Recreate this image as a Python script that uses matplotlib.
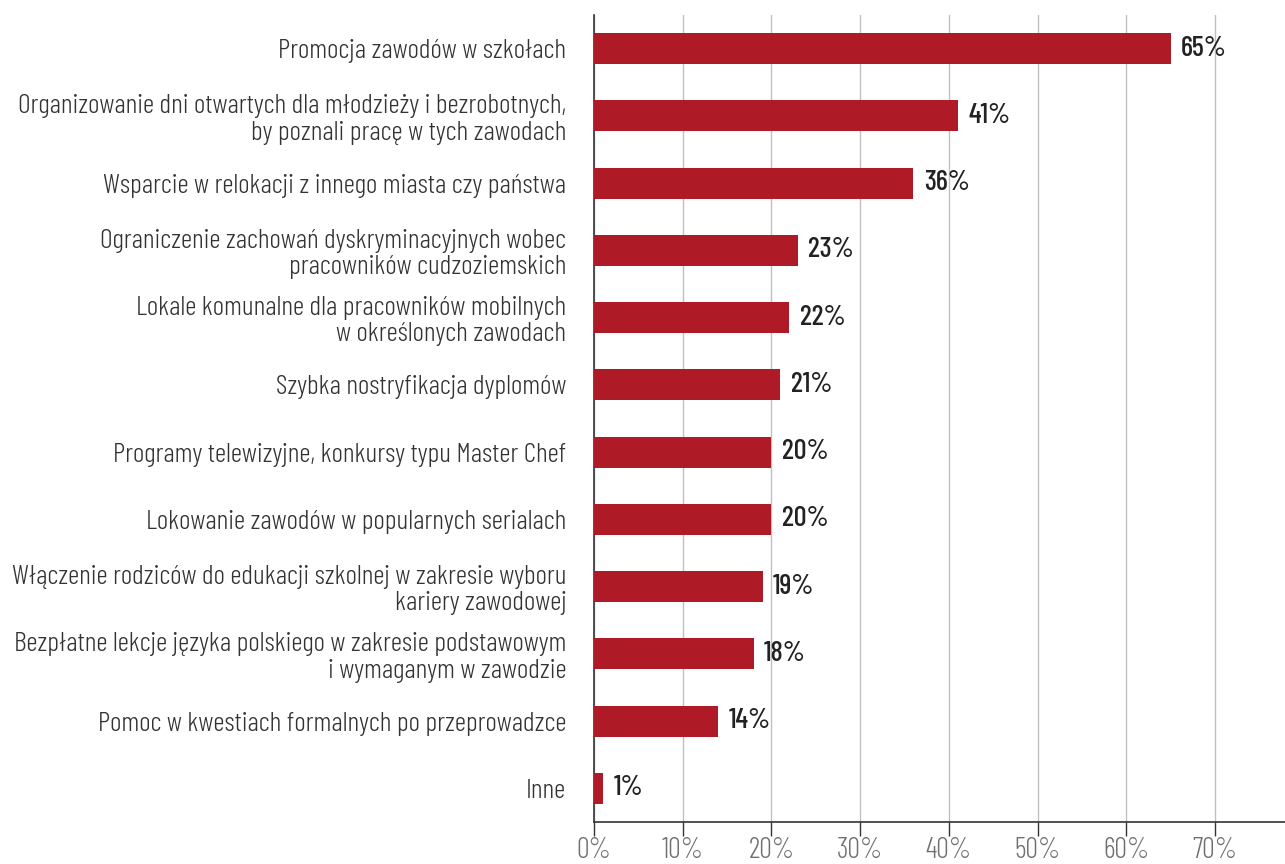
import matplotlib
matplotlib.use("Agg")
import matplotlib.pyplot as plt

labels = [
    "Promocja zawodów w szkołach",
    "Organizowanie dni otwartych dla młodzieży i bezrobotnych,\nby poznali pracę w tych zawodach",
    "Wsparcie w relokacji z innego miasta czy państwa",
    "Ograniczenie zachowań dyskryminacyjnych wobec\npracowników cudzoziemskich",
    "Lokale komunalne dla pracowników mobilnych\nw określonych zawodach",
    "Szybka nostryfikacja dyplomów",
    "Programy telewizyjne, konkursy typu Master Chef",
    "Lokowanie zawodów w popularnych serialach",
    "Włączenie rodziców do edukacji szkolnej w zakresie wyboru\nkariery zawodowej",
    "Bezpłatne lekcje języka polskiego w zakresie podstawowym\ni wymaganym w zawodzie",
    "Pomoc w kwestiach formalnych po przeprowadzce",
    "Inne",
]
values = [65, 41, 36, 23, 22, 21, 20, 20, 19, 18, 14, 1]
xticks = [0, 10, 20, 30, 40, 50, 60, 70]

FONT = "Barlow Condensed"
BAR = "#ae1a26"

fig = plt.figure(figsize=(12.85, 8.64), dpi=100)
ax = fig.add_axes([0.4623, 0.0486, 0.5377, 0.934])

pos = list(range(len(labels)))
ax.barh(pos, values, height=0.46, color=BAR, zorder=3)

for y, v in zip(pos, values):
    ax.annotate(f"{v}%", (v, y), xytext=(7.5, 0), textcoords="offset points",
                va="center", ha="left", fontsize=20.5, family=FONT,
                fontweight=500, color="#222222")

ax.set_xlim(0, 77.9)
ax.set_ylim(len(labels) - 0.5, -0.5)
ax.set_xticks(xticks)
ax.set_xticklabels([f"{t}%" for t in xticks], family=FONT, fontweight=300,
                   fontsize=20.5, color="#707070")
ax.set_yticks(pos)
ax.set_yticklabels(labels, family=FONT, fontweight=300, fontsize=20,
                   color="#333333", linespacing=1.12, multialignment="right")
ax.tick_params(axis="y", length=0, pad=20)
ax.tick_params(axis="x", length=10, width=1, color="#333333", pad=0.5)

ax.grid(axis="x", color="#c0c0c0", linewidth=1, zorder=0)
ax.set_axisbelow(True)
for s in ["top", "right"]:
    ax.spines[s].set_visible(False)
for s in ["left", "bottom"]:
    ax.spines[s].set_color("#333333")
    ax.spines[s].set_linewidth(1.2)

fig.savefig("out.png", dpi=100)
